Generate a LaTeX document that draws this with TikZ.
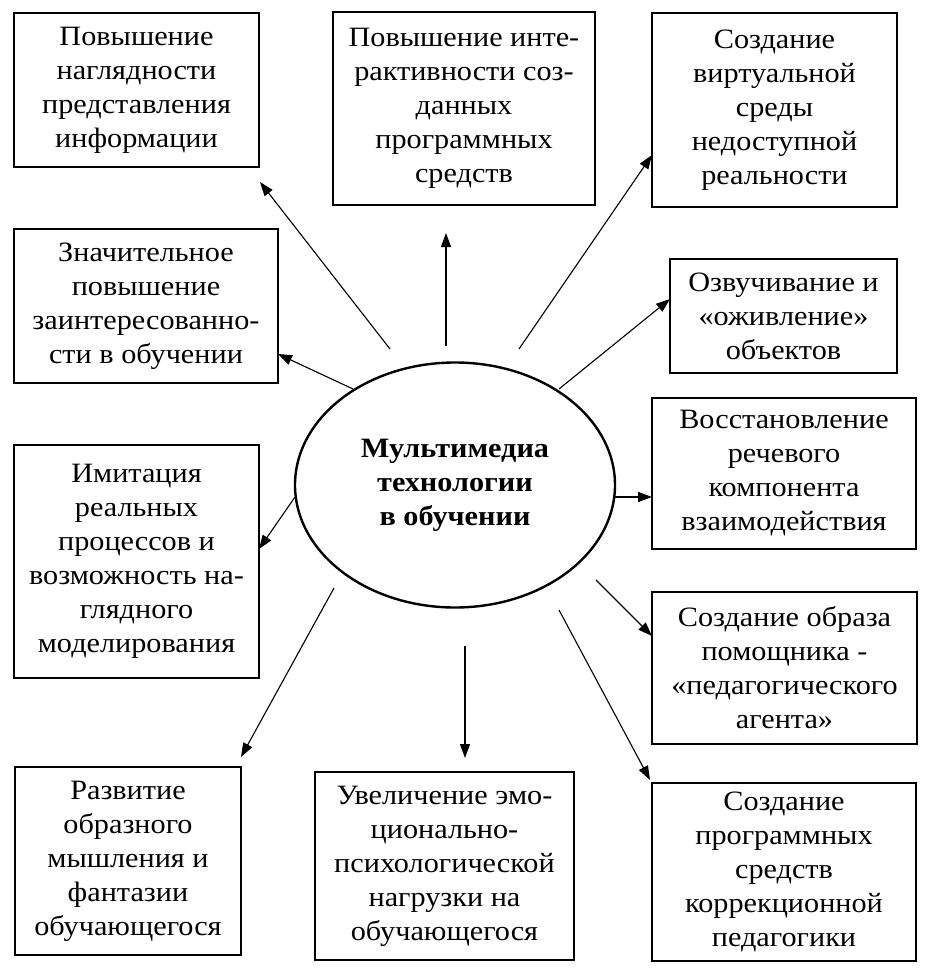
\documentclass[tikz,border=0pt]{standalone}
\usepackage{fontspec}
\setmainfont[FakeStretch=1.08]{Liberation Serif}
\usetikzlibrary{arrows.meta,shapes.geometric}
\begin{document}
\begin{tikzpicture}[x=1pt,y=-1pt,
  box/.style={draw, line width=2.4pt, align=center, inner sep=0pt,
    font=\fontsize{28}{34}\selectfont},
  hub/.style={draw, ellipse, line width=2.4pt, align=center, inner sep=0pt,
    font=\fontsize{28}{34}\selectfont\bfseries},
  arr/.style={line width=1.1pt, -{Triangle[length=14pt,width=10pt]}}]
\useasboundingbox (0,0) rectangle (932,977);
\fill[white] (0,0) rectangle (932,977);

\node[hub, minimum width=320, minimum height=245] (c) at (455,485)
  {Мультимедиа\\технологии\\в обучении};

\node[box, minimum width=245, minimum height=154] (b1) at (136.5,90)
  {Повышение\\наглядности\\представления\\информации};
\node[box, minimum width=262, minimum height=193] (b2) at (464,108.5)
  {Повышение инте-\\рактивности соз-\\данных\\программных\\средств};
\node[box, minimum width=245, minimum height=194] (b3) at (774.5,110)
  {Создание\\виртуальной\\среды\\недоступной\\реальности};
\node[box, minimum width=264, minimum height=154] (b4) at (146,306)
  {Значительное\\повышение\\заинтересованно-\\сти в обучении};
\node[box, minimum width=227, minimum height=114] (b5) at (783.5,316)
  {Озвучивание и\\«оживление»\\объектов};
\node[box, minimum width=245, minimum height=233] (b6) at (136.5,561.5)
  {Имитация\\реальных\\процессов и\\возможность на-\\глядного\\моделирования};
\node[box, minimum width=264, minimum height=151] (b7) at (784,473.5)
  {Восстановление\\речевого\\компонента\\взаимодействия};
\node[box, minimum width=265, minimum height=152] (b8) at (784.5,668)
  {Создание образа\\помощника -\\«педагогического\\агента»};
\node[box, minimum width=226, minimum height=188] (b9) at (128,861)
  {Развитие\\образного\\мышления и\\фантазии\\обучающегося};
\node[box, minimum width=259, minimum height=188] (b10) at (444.5,866)
  {Увеличение эмо-\\ционально-\\психологической\\нагрузки на\\обучающегося};
\node[box, minimum width=264, minimum height=178] (b11) at (784,872)
  {Создание\\программных\\средств\\коррекционной\\педагогики};

% start points near the hub
\coordinate (s1) at (390,349);
\coordinate (s2) at (446,346);
\coordinate (s3) at (519,349);
\coordinate (s4) at (353,389);
\coordinate (s5) at (559,389);
\coordinate (s6) at (295,497);
\coordinate (s7) at (615,497);
\coordinate (s8) at (596,580);
\coordinate (s9) at (334,588);
\coordinate (s10) at (465,646);
\coordinate (s11) at (559,610);
% arrow tips near the boxes
\coordinate (t1) at (260,182);
\coordinate (t2) at (446,233);
\coordinate (t3) at (652,155);
\coordinate (t4) at (278,354);
\coordinate (t5) at (670,299);
\coordinate (t6) at (259,549);
\coordinate (t7) at (652,497);
\coordinate (t8) at (652,636);
\coordinate (t9) at (241,757);
\coordinate (t10) at (465,758);
\coordinate (t11) at (650,780);

\foreach \i in {1,...,11} \draw[arr] (s\i) -- (t\i);
\end{tikzpicture}
\end{document}
